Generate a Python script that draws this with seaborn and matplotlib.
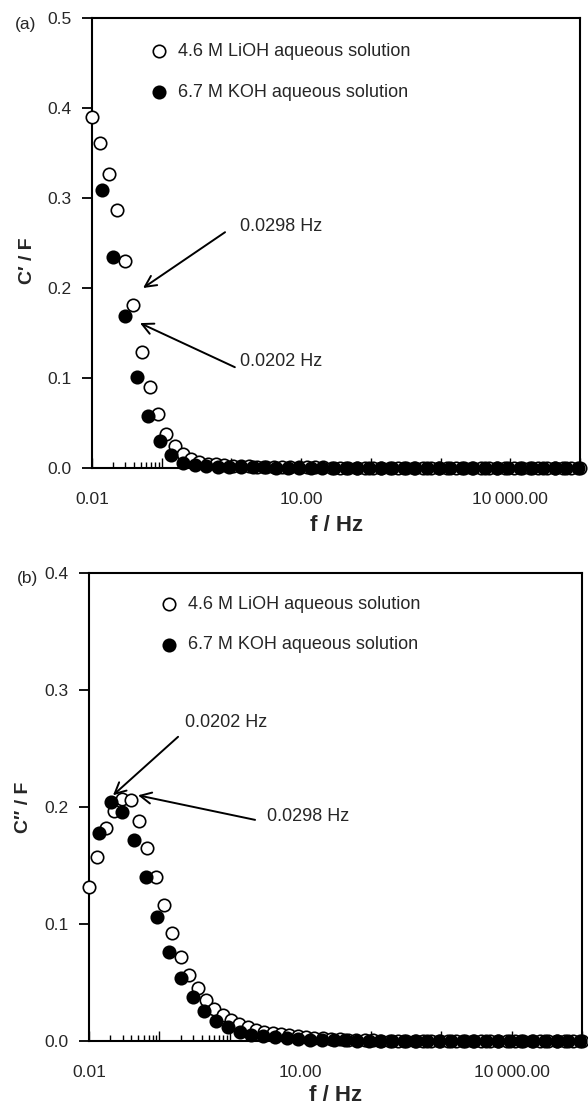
import matplotlib
matplotlib.use("Agg")
import matplotlib.pyplot as plt
import seaborn as sns
from matplotlib.ticker import NullFormatter, LogLocator

# ---------------- data ----------------
freq_lioh = [0.0100, 0.01314, 0.01726, 0.02268, 0.02980, 0.03916, 0.05145, 0.06760, 0.08882, 0.1167,
             0.1533, 0.2015, 0.2648, 0.3479, 0.4571, 0.6006, 0.7891, 1.037, 1.362, 1.790,
             2.352, 3.090, 4.060, 5.334, 7.009, 9.209, 12.10, 15.90, 20.89, 27.45,
             36.06, 47.38, 62.26, 81.80, 107.5, 141.2, 185.5, 243.8, 320.3, 420.9,
             553.0, 726.6, 954.7, 1254.0, 1648.0, 2166.0, 2845.0, 3739.0, 4912.0, 6454.0,
             8480.0, 11142.0, 14640.0, 19236.0, 25274.0, 33208.0, 43632.0, 57328.0, 75324.0, 100000.0]

freq_koh = [0.01376, 0.02020, 0.02965, 0.04352, 0.06388, 0.09376,
            0.1376, 0.2020, 0.2965, 0.4352, 0.6388, 0.9376,
            1.376, 2.020, 2.965, 4.352, 6.388, 9.376,
            13.76, 20.20, 29.65, 43.52, 63.88, 93.76,
            137.6, 202.0, 296.5, 435.2, 638.8, 937.6,
            1376.0, 2020.0, 2965.0, 4352.0, 6388.0, 9376.0,
            13760.0, 20200.0, 29650.0, 43520.0, 63880.0, 93760.0]

# C' (real capacitance), panel (a)
c_real_lioh = [0.390, 0.361, 0.327, 0.287, 0.230, 0.181, 0.129, 0.090, 0.060, 0.038,
               0.025, 0.016, 0.010, 0.007, 0.005, 0.004, 0.003, 0.0025, 0.002, 0.0018,
               0.0016, 0.0014, 0.0012, 0.0011, 0.0010, 0.0009, 0.0008, 0.0007, 0.0006, 0.0005,
               0.0005, 0.0004, 0.0004, 0.0003, 0.0003, 0.0003, 0.0002, 0.0002, 0.0002, 0.0002,
               0.0001, 0.0001, 0.0001, 0.0001, 0.0001, 0.0001, 0.0001, 0.0001, 0.0001, 0.0001,
               0.0001, 0.0001, 0.0001, 0.0001, 0.0001, 0.0, 0.0, 0.0, 0.0, 0.0]
c_real_koh = [0.309, 0.235, 0.169, 0.101, 0.058, 0.030, 0.0144, 0.006, 0.003, 0.002,
              0.0015, 0.0012, 0.0010, 0.0008, 0.0006, 0.0005, 0.0004, 0.0003, 0.0003, 0.0002,
              0.0002, 0.0002, 0.0001, 0.0001, 0.0001, 0.0001, 0.0001, 0.0001, 0.0001, 0.0001,
              0.0001, 0.0001, 0.0, 0.0, 0.0, 0.0, 0.0, 0.0, 0.0, 0.0,
              0.0, 0.0]

# C'' (imaginary capacitance), panel (b)
c_imag_lioh = [0.132, 0.157, 0.182, 0.197, 0.207, 0.206, 0.188, 0.165, 0.140, 0.116,
               0.092, 0.072, 0.056, 0.045, 0.035, 0.027, 0.022, 0.018, 0.0145, 0.012,
               0.009, 0.0078, 0.0068, 0.006, 0.0054, 0.0045, 0.0035, 0.0028, 0.0022, 0.0017,
               0.0013, 0.0010, 0.0008, 0.0006, 0.0005, 0.0004, 0.0003, 0.0003, 0.0002, 0.0002,
               0.0002, 0.0002, 0.0001, 0.0001, 0.0001, 0.0001, 0.0001, 0.0001, 0.0001, 0.0001,
               0.0001, 0.0001, 0.0, 0.0, 0.0, 0.0, 0.0, 0.0, 0.0, 0.0]
c_imag_koh = [0.1775, 0.204, 0.196, 0.172, 0.1405, 0.106, 0.076, 0.054, 0.038, 0.026,
              0.0174, 0.0122, 0.008, 0.0055, 0.004, 0.003, 0.0022, 0.0016, 0.0012, 0.0009,
              0.0007, 0.0005, 0.0004, 0.0003, 0.0003, 0.0002, 0.0002, 0.0002, 0.0001, 0.0001,
              0.0001, 0.0001, 0.0001, 0.0, 0.0, 0.0, 0.0, 0.0, 0.0, 0.0,
              0.0, 0.0]

series_labels = ["4.6 M LiOH aqueous solution", "6.7 M KOH aqueous solution"]
x_tick_values = [0.01, 0.1, 1, 10, 100, 1000, 10000, 100000]
x_tick_labels = ["0.01", "", "", "10.00", "", "", "10\u2009000.00", ""]
y_ticks_a = [0.0, 0.1, 0.2, 0.3, 0.4, 0.5]
y_ticks_b = [0.0, 0.1, 0.2, 0.3, 0.4]
y_tick_labels_a = ["0.0", "0.1", "0.2", "0.3", "0.4", "0.5"]
y_tick_labels_b = ["0.0", "0.1", "0.2", "0.3", "0.4"]
panel_tags = ["(a)", "(b)"]
y_titles = ["C\u2032 / F", "C\u2033 / F"]
x_title = "f / Hz"
# annotations: (text, text position, arrow start, arrow tip) in data coords
notes_a = [("0.0298 Hz", (1.33, 0.268), (0.81, 0.262), (0.054, 0.200)),
           ("0.0202 Hz", (1.33, 0.118), (1.12, 0.112), (0.0488, 0.161))]
notes_b = [("0.0202 Hz", (0.231, 0.272), (0.184, 0.260), (0.0219, 0.210)),
           ("0.0298 Hz", (3.37, 0.192), (2.28, 0.189), (0.0497, 0.210))]

# ---------------- style ----------------
sns.set_style("white")
plt.rcParams["font.family"] = ["Liberation Sans", "DejaVu Sans"]
plt.rcParams["axes.edgecolor"] = "black"
plt.rcParams["axes.linewidth"] = 1.5

W, H = 588, 1110
fig = plt.figure(figsize=(W / 100, H / 100), dpi=100)
ax1 = fig.add_axes([92 / W, 1 - 468 / H, 488 / W, 450 / H])
ax2 = fig.add_axes([89 / W, 1 - 1041 / H, 493 / W, 468 / H])

MS = 80


def draw_panel(ax, y_lioh, y_koh, ylim, yticks, yticklabels, ytitle, notes,
               leg_anchor, ylab_y):
    sns.scatterplot(x=freq_lioh, y=y_lioh, ax=ax, marker="o", s=MS,
                    color="white", edgecolor="black", linewidth=1.2,
                    label=series_labels[0], zorder=3, clip_on=False)
    sns.scatterplot(x=freq_koh, y=y_koh, ax=ax, marker="o", s=MS,
                    color="black", edgecolor="black", linewidth=1.2,
                    label=series_labels[1], zorder=4, clip_on=False)
    ax.set_xscale("log")
    ax.set_xlim(0.01, 1e5)
    ax.set_ylim(*ylim)
    ax.set_xticks(x_tick_values, labels=x_tick_labels)
    ax.xaxis.set_minor_locator(LogLocator(base=10, subs=[2, 3, 4, 5, 6, 7, 8, 9], numticks=50))
    ax.xaxis.set_minor_formatter(NullFormatter())
    ax.set_yticks(yticks, labels=yticklabels)
    ax.tick_params(axis="y", which="major", direction="out", length=7, width=1.3,
                   labelsize=12.5, pad=8, color="black", left=True)
    ax.tick_params(axis="x", which="major", direction="in", length=7, width=1.0,
                   labelsize=12.5, pad=17, color="black", bottom=True)
    ax.tick_params(axis="x", which="minor", direction="in", length=4.5, width=1.0,
                   color="black", bottom=True)
    for sp in ax.spines.values():
        sp.set_linewidth(1.5)
        sp.set_color("black")
    ax.set_ylabel(ytitle, fontsize=14, fontweight="bold")
    ax.yaxis.set_label_coords(-0.115, ylab_y)
    ax.set_xlabel(x_title, fontsize=16, fontweight="bold")
    for txt, tpos, start, tip in notes:
        ax.annotate("", xy=tip, xytext=start,
                    arrowprops=dict(arrowstyle="->", lw=1.4, color="black",
                                    shrinkA=0, shrinkB=0, mutation_scale=20))
        ax.text(tpos[0], tpos[1], txt, ha="left", va="center", fontsize=13)
    ax.legend(loc="upper left", bbox_to_anchor=leg_anchor, frameon=False,
              handlelength=1.0, handletextpad=0.6, labelspacing=1.3,
              borderpad=0, borderaxespad=0, fontsize=13, scatterpoints=1)


draw_panel(ax1, c_real_lioh, c_real_koh, (0, 0.5), y_ticks_a, y_tick_labels_a,
           y_titles[0], notes_a, (0.118, 0.944), 0.46)
ax1.xaxis.set_label_coords(0.5, -0.105)
draw_panel(ax2, c_imag_lioh, c_imag_koh, (0, 0.4), y_ticks_b, y_tick_labels_b,
           y_titles[1], notes_b, (0.143, 0.951), 0.5)
ax2.xaxis.set_label_coords(0.5, -0.093)

fig.text(36 / W, 1 - 25 / H, panel_tags[0], ha="right", va="center", fontsize=12.5)
fig.text(38 / W, 1 - 578 / H, panel_tags[1], ha="right", va="center", fontsize=12.5)

fig.savefig("out.png", dpi=100, facecolor="white")
